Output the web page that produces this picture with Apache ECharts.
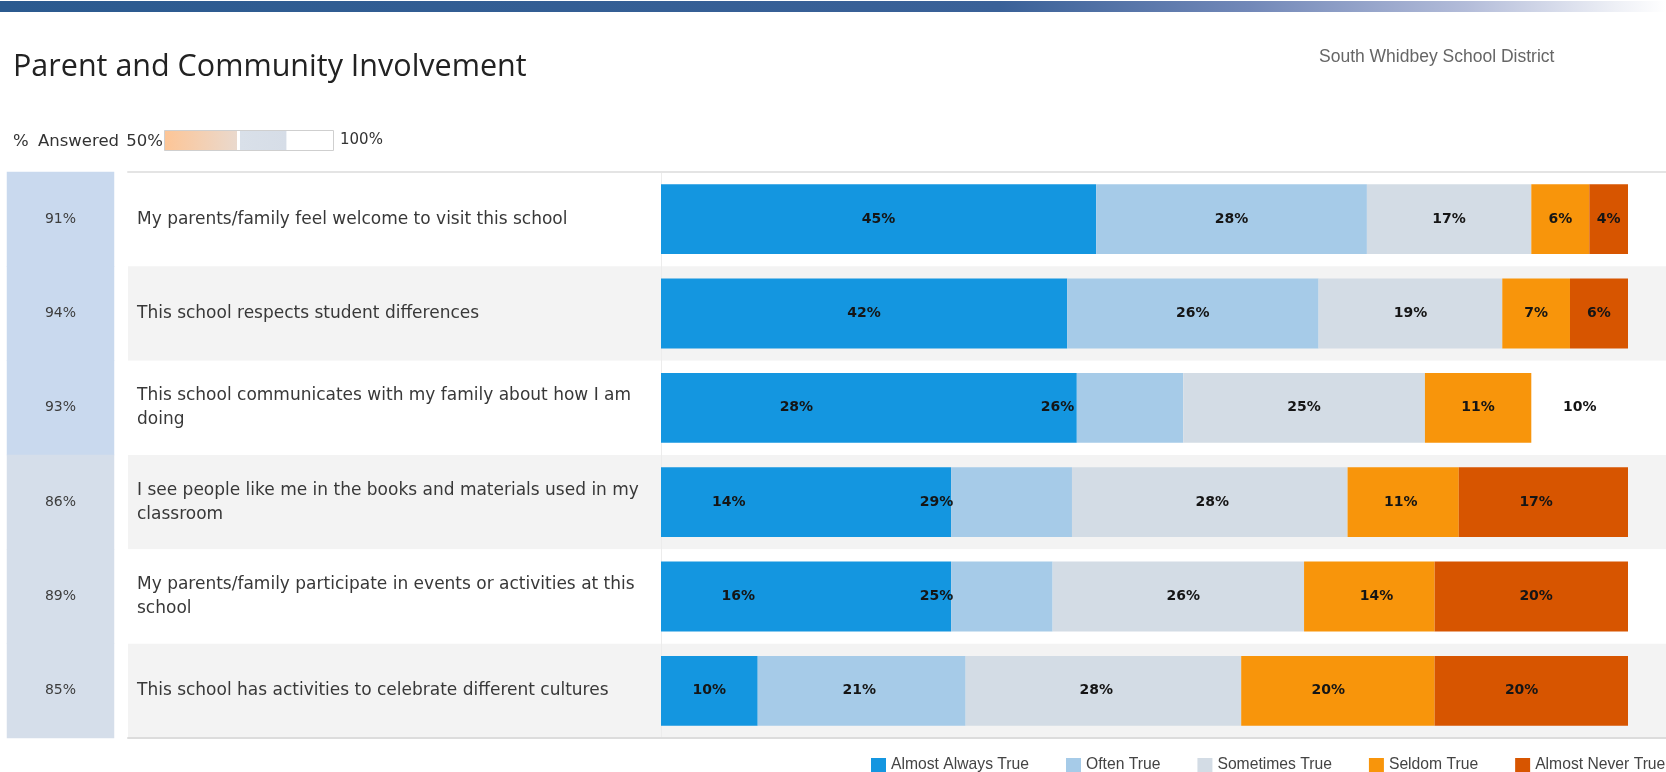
<!DOCTYPE html>
<html><head><meta charset="utf-8">
<script src="https://cdn.jsdelivr.net/npm/echarts@6/dist/echarts.min.js"></script>
<style>html,body{margin:0;padding:0;background:#fff}#c{width:1666px;height:772px}</style>
</head><body><div id="c"></div>
<script>
// ---------- data ----------
const questions = [
  'My parents/family feel welcome to visit this school',
  'This school respects student differences',
  'This school communicates with my family about how I am doing',
  'I see people like me in the books and materials used in my classroom',
  'My parents/family participate in events or activities at this school',
  'This school has activities to celebrate different cultures'
];
const pctAnswered = [91, 94, 93, 86, 89, 85];
const seriesNames = ['Almost Always True', 'Often True', 'Sometimes True', 'Seldom True', 'Almost Never True'];
// values printed on the bars
const almostAlways = [45, 42, 28, 14, 16, 10];
const often        = [28, 26, 26, 29, 25, 21];
const sometimes    = [17, 19, 25, 28, 26, 28];
const seldom       = [6, 7, 11, 11, 14, 20];
const almostNever  = [4, 6, 10, 17, 20, 20];
// segment lengths as they are drawn in the picture
const drawnAlmostAlways = [45, 42, 43, 30, 30, 10];
const drawnOften        = [28, 26, 11, 12.5, 10.5, 21.5];
const drawnSometimes    = [17, 19, 25, 28.5, 26, 28.5];
const drawnSeldom       = [6, 7, 11, 11.5, 13.5, 20];
const drawnAlmostNever  = [4, 6, 0, 17.5, 20, 20];
const answeredLegendText = ['%', 'Answered', '50%', '100%'];

// ---------- styles ----------
const colors = ['#1496e0', '#a6cbe8', '#d3dce5', '#f8950b', '#d75500'];
const labelValues = [almostAlways, often, sometimes, seldom, almostNever];
const drawnValues = [drawnAlmostAlways, drawnOften, drawnSometimes, drawnSeldom, drawnAlmostNever];
const TOP = 172, H = 566;
const smallText = { fontSize: 16.5, fill: '#333', fontFamily: 'DejaVu Sans' };

const chart = echarts.init(document.getElementById('c'));
const series = [{
  type: 'heatmap', xAxisIndex: 0, yAxisIndex: 0,
  data: pctAnswered.map((v, i) => [0, i, v]),
  label: { show: true, formatter: p => p.value[2] + '%', color: '#3d3d3d', fontSize: 14, fontFamily: 'DejaVu Sans' },
  emphasis: { disabled: true }
}];
seriesNames.forEach((n, k) => {
  series.push({
    type: 'bar', name: n, stack: 'drawn', xAxisIndex: 3, yAxisIndex: 2,
    data: drawnValues[k], barCategoryGap: '26%', barGap: '-100%',
    itemStyle: { color: colors[k] }, emphasis: { disabled: true }, silent: true
  });
});
seriesNames.forEach((n, k) => {
  series.push({
    type: 'bar', name: n, stack: 'label', xAxisIndex: 3, yAxisIndex: 2,
    data: labelValues[k], barCategoryGap: '26%', barGap: '-100%',
    itemStyle: { color: 'rgba(0,0,0,0)' }, emphasis: { disabled: true }, silent: true,
    label: { show: true, position: 'inside', formatter: '{c}%', color: '#151515',
             fontWeight: 'bold', fontSize: 14, fontFamily: 'DejaVu Sans' }
  });
});

chart.setOption({
  animation: false,
  backgroundColor: '#ffffff',
  title: [
    { text: 'Parent and Community Involvement', left: 8, top: 47,
      textStyle: { fontSize: 30.5, fontWeight: 'normal', color: '#222', fontFamily: 'Open Sans' } },
    { text: 'South Whidbey School District', left: 1314, top: 43,
      textStyle: { fontSize: 17.5, fontWeight: 'normal', color: '#666', fontFamily: 'Liberation Sans' } }
  ],
  graphic: [
    { type: 'rect', left: 0, top: 1, shape: { width: 1666, height: 11 }, silent: true,
      style: { fill: new echarts.graphic.LinearGradient(0, 0, 1, 0, [
        { offset: 0, color: '#2b5a8f' }, { offset: 0.6, color: '#3a6198' },
        { offset: 0.75, color: '#7288b8' }, { offset: 0.88, color: '#b3bcd9' },
        { offset: 0.97, color: '#eef0f6' }, { offset: 1, color: '#ffffff' }]) } },
    { type: 'rect', left: 164, top: 130, shape: { width: 169, height: 20 }, silent: true,
      style: { stroke: '#cfcfcf', lineWidth: 1, fill: new echarts.graphic.LinearGradient(0, 0, 1, 0, [
        { offset: 0, color: '#fdc596' }, { offset: 0.43, color: '#ead9cd' },
        { offset: 0.431, color: '#ffffff' }, { offset: 0.445, color: '#ffffff' },
        { offset: 0.446, color: '#d9e0e9' }, { offset: 0.72, color: '#d6dde7' },
        { offset: 0.721, color: '#ffffff' }, { offset: 1, color: '#ffffff' }]) } },
    { type: 'text', left: 13, top: 133, silent: true, style: Object.assign({ text: answeredLegendText[0] }, smallText) },
    { type: 'text', left: 38, top: 133, silent: true, style: Object.assign({ text: answeredLegendText[1] }, smallText) },
    { type: 'text', right: 1666 - 163, top: 133, silent: true, style: Object.assign({ text: answeredLegendText[2] }, smallText) },
    { type: 'text', left: 340, top: 133, silent: true, style: Object.assign({ text: answeredLegendText[3] }, smallText, { fontSize: 15 }) }
  ],
  visualMap: [{
    type: 'piecewise', show: false, seriesIndex: 0, dimension: 2,
    pieces: [{ gte: 90, color: '#c9d9ee' }, { lt: 90, color: '#d5deea' }]
  }],
  legend: {
    data: seriesNames, left: 871, top: 757, width: 1200, padding: 0, icon: 'rect',
    itemWidth: 15, itemHeight: 14, itemGap: 37, selectedMode: false,
    textStyle: { fontSize: 15.7, color: '#444', fontFamily: 'Liberation Sans' }
  },
  grid: [
    { left: 7, width: 107, top: TOP, height: H },
    { left: 128, right: 0, top: TOP, height: H },
    { left: 661, right: 38, top: TOP, height: H }
  ],
  xAxis: [
    { type: 'category', gridIndex: 0, data: ['answered'], show: false },
    { type: 'value', gridIndex: 1, position: 'top', min: 0, max: 1,
      axisLine: { show: true, lineStyle: { color: '#e4e4e4', width: 2 } },
      axisTick: { show: false }, axisLabel: { show: false }, splitLine: { show: false } },
    { type: 'value', gridIndex: 1, position: 'bottom', min: 0, max: 1,
      axisLine: { show: true, lineStyle: { color: '#dcdcdc', width: 2 } },
      axisTick: { show: false }, axisLabel: { show: false }, splitLine: { show: false } },
    { type: 'value', gridIndex: 2, min: 0, max: 100, show: false }
  ],
  yAxis: [
    { type: 'category', gridIndex: 0, data: questions, inverse: true, show: false },
    { type: 'category', gridIndex: 1, data: questions, inverse: true,
      axisLine: { show: false }, axisTick: { show: false },
      splitArea: { show: true, areaStyle: { color: ['#ffffff', '#f3f3f3'] } },
      axisLabel: { inside: true, margin: 9, fontSize: 17, color: '#383838', fontFamily: 'DejaVu Sans',
                   width: 530, overflow: 'break', lineHeight: 24 } },
    { type: 'category', gridIndex: 2, data: questions, inverse: true,
      axisLine: { show: true, lineStyle: { color: '#ececec', width: 1 } },
      axisTick: { show: false }, axisLabel: { show: false } }
  ],
  series: series
});
</script></body></html>
